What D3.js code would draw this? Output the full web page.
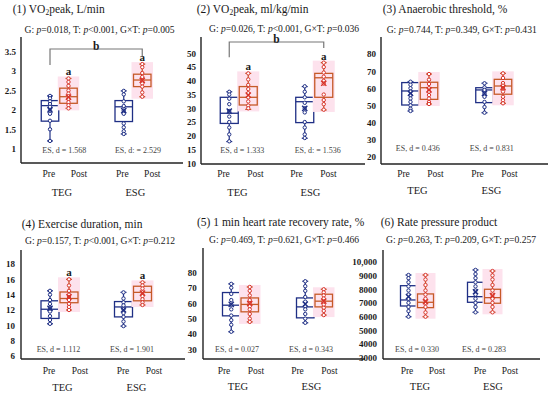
<!DOCTYPE html>
<html><head><meta charset="utf-8">
<script src="https://cdn.jsdelivr.net/npm/d3@7"></script>
<style>
body{margin:0;background:#fff}
svg{display:block}
text{font-family:"Liberation Serif","DejaVu Serif",serif;fill:#1a1a1a}
</style>
</head><body>
<svg id="c" width="550" height="393"></svg>
<script>
// ---------------- DATA ----------------
const groups = ["TEG", "ESG"];
const phases = ["Pre", "Post"];
const panelTitles = [
  "(1) VO₂peak, L/min",
  "(2) VO₂peak, ml/kg/min",
  "(3) Anaerobic threshold, %",
  "(4) Exercise duration, min",
  "(5) 1 min heart rate recovery rate, %",
  "(6) Rate pressure product"
];
// G, T, GxT p-values
const pValues = [
  ["=0.018", "<0.001", "=0.005"],
  ["=0.026", "<0.001", "=0.036"],
  ["=0.744", "=0.349", "=0.431"],
  ["=0.157", "<0.001", "=0.212"],
  ["=0.469", "=0.621", "=0.466"],
  ["=0.263", "=0.209", "=0.257"]
];
const esLabels = [
  ["ES, d = 1.568", "ES, d: = 2.529"],
  ["ES, d = 1.333", "ES, d: = 1.536"],
  ["ES, d = 0.436", "ES, d = 0.831"],
  ["ES, d = 1.112", "ES, d = 1.901"],
  ["ES, d = 0.027", "ES, d = 0.343"],
  ["ES, d = 0.330", "ES, d = 0.283"]
];
const tickValues = [
  [1, 1.5, 2, 2.5, 3, 3.5],
  [10, 15, 20, 25, 30, 35, 40, 45, 50],
  [20, 30, 40, 50, 60, 70, 80],
  [6, 8, 10, 12, 14, 16, 18],
  [30, 40, 50, 60, 70, 80],
  [3000, 4000, 5000, 6000, 7000, 8000, 9000, 10000]
];
// box stats per panel: [TEG Pre, TEG Post, ESG Pre, ESG Post], each [min, q1, median, q3, max, mean]
const boxStats = [
  [[1.2, 1.71, 2.11, 2.24, 2.36, 2.0], [2.04, 2.17, 2.34, 2.56, 2.81, 2.33], [1.38, 1.7, 2.08, 2.24, 2.49, 1.98], [2.34, 2.6, 2.77, 2.92, 3.18, 2.76]],
  [[17.9, 24.5, 28.2, 34.0, 36.0, 29.0], [29.6, 31.2, 34.0, 37.9, 42.7, 34.8], [19.1, 24.8, 32.4, 34.0, 37.9, 30.0], [29.4, 34.0, 41.1, 42.7, 46.6, 39.1]],
  [[46.7, 50.2, 58.4, 63.3, 63.8, 57.0], [50.8, 53.5, 60.3, 63.5, 68.3, 59.0], [45.7, 51.6, 59.0, 60.3, 62.9, 57.0], [51.2, 56.5, 61.3, 65.2, 68.7, 60.3]],
  [[10.2, 10.9, 12.1, 13.2, 14.5, 12.2], [12.0, 12.95, 13.5, 14.35, 16.0, 13.7], [9.9, 11.1, 12.4, 13.1, 14.3, 12.0], [12.65, 13.2, 14.3, 15.1, 15.6, 14.2]],
  [[41.5, 51.8, 58.7, 66.9, 72.5, 59.2], [47.9, 54.4, 59.2, 63.4, 70.5, 59.8], [47.3, 50.5, 57.6, 63.4, 74.2, 59.4], [52.3, 57.6, 61.3, 65.8, 69.0, 61.3]],
  [[5990, 6770, 7210, 8250, 9030, 7450], [5990, 6650, 7040, 7650, 9030, 7080], [6310, 7040, 7450, 8500, 9400, 7810], [6310, 6970, 7380, 7990, 9320, 7520]]
];
// individual subject points per panel / box
const pointValues = [
  [[2.36, 2.3, 2.22, 2.15, 2.08, 1.98, 1.9, 1.72, 1.5, 1.2], [2.81, 2.72, 2.62, 2.5, 2.42, 2.35, 2.28, 2.2, 2.12, 2.04], [2.49, 2.4, 2.22, 2.1, 1.98, 1.9, 1.65, 1.55, 1.45, 1.38], [3.18, 3.1, 2.95, 2.85, 2.75, 2.68, 2.6, 2.45, 2.34]],
  [[36, 35, 33.5, 31.5, 29, 27, 25, 23, 20.5, 18], [42.7, 40.5, 38.5, 37, 35.5, 34, 32.5, 31, 30], [38, 36, 34, 32, 30, 28.5, 25, 23, 20.5, 19.2], [46.6, 45, 43, 41.5, 40, 39, 35, 33, 31.5, 29.5]],
  [[63.8, 62, 60, 58, 56, 54, 52, 50, 48, 46.7], [68.3, 65, 62.5, 60, 58, 56, 54, 52, 50.8], [62.9, 60.5, 59, 57, 55, 52, 49, 45.7], [68.7, 66, 63, 61.5, 60, 58, 55, 53, 51.2]],
  [[14.5, 14, 13.3, 12.8, 12.3, 11.8, 11.2, 10.7, 10.2], [16, 15.2, 14.5, 14, 13.7, 13.3, 12.8, 12.4, 12], [14.3, 13.5, 13, 12.6, 12.1, 11.6, 11.1, 10.5, 9.9], [15.6, 15.2, 14.8, 14.3, 13.8, 13.4, 13, 12.65]],
  [[72.5, 70, 66, 62, 59, 56, 52, 49, 46, 41.5], [70.5, 68, 65, 62, 60, 58, 56, 53, 50, 47.9], [74.2, 71, 68, 64, 61, 58, 56, 53, 50, 47.3], [69, 67, 65, 63, 61, 59, 57, 55, 52.3]],
  [[9030, 8800, 8500, 8200, 7900, 7600, 7300, 7000, 6700, 6400, 5990], [9030, 8700, 8300, 7900, 7600, 7300, 7000, 6700, 6300, 5990], [9400, 9100, 8800, 8500, 8200, 7900, 7600, 7300, 7000, 6700, 6310], [9320, 9000, 8700, 8300, 7900, 7600, 7300, 7000, 6700, 6310]]
];
// significance "a" on post boxes
const sigA = [[false, true, false, true], [false, true, false, true], [false, false, false, false], [false, true, false, true], [false, false, false, false], [false, false, false, false]];
const bracketLabel = ["b", "b", "", "", "", ""];

// ---------------- LAYOUT ----------------
const layout = [
  {ax: 21, top: 37, bot: 163, right: 183, ref: [1, 148.7, 3.5, 51.7], gx: [59.25, 133], bw: 17.5, tx: 12.7, ty: 12.5, px: 24.5, py: 33, tickR: 16, lblMid: [63.9, 137.3], lblHalf: 15, lblY: 177, grpY: 196, esY: 152.5, esDx: 5, bracket: [49, 65, 56]},
  {ax: 201, top: 37, bot: 164, right: 365, ref: [10, 163.3, 50, 53.3], gx: [238.75, 314.25], bw: 18, tx: 196.7, ty: 12.5, px: 209, py: 32, tickR: 196, lblMid: [239.5, 312.5], lblHalf: 16, lblY: 177, grpY: 196, esY: 152.5, esDx: 3.5, bracket: [42, 57.3, 48]},
  {ax: 381, top: 37, bot: 164, right: 548, ref: [20, 156.7, 80, 54], gx: [419.75, 493.75], bw: 17.5, tx: 382.7, ty: 12.5, px: 386.7, py: 33, tickR: 376, lblMid: [419.5, 493.5], lblHalf: 16, lblY: 177, grpY: 194, esY: 151, esDx: -2, bracket: null},
  {ax: 21, top: 250, bot: 359, right: 185, ref: [6, 356, 18, 264], gx: [59.5, 133], bw: 18, tx: 21.7, ty: 227.5, px: 25, py: 243.5, tickR: 15, lblMid: [64.5, 138.5], lblHalf: 15.5, lblY: 374, grpY: 391, esY: 352, esDx: -1, bracket: null},
  {ax: 203, top: 248, bot: 359, right: 365, ref: [30, 349.5, 80, 272.3], gx: [240.5, 314.5], bw: 17.5, tx: 197, ty: 226, px: 209, py: 242.5, tickR: 196.7, lblMid: [240, 313.5], lblHalf: 16, lblY: 374, grpY: 390, esY: 352, esDx: -3.5, bracket: null},
  {ax: 383, top: 250, bot: 359, right: 540, ref: [3000, 357.7, 10000, 261.7], gx: [417, 484], bw: 16, tx: 380.7, ty: 226, px: 386, py: 242.5, tickR: 377, lblMid: [422, 495], lblHalf: 15, lblY: 374, grpY: 390, esY: 352, esDx: 0, bracket: null}
];

const navy = "#1f2f85", orange = "#c65a28", red = "#d8352b", pink = "#fde2ed";

const svg = d3.select("#c");
svg.append("rect").attr("width", 550).attr("height", 393).attr("fill", "#fff");

const tickFmt = v => v >= 10000 ? d3.format(",")(v) : String(v);

layout.forEach((L, i) => {
  const g = svg.append("g");
  const y = d3.scaleLinear().domain([L.ref[0], L.ref[2]]).range([L.ref[1], L.ref[3]]);
  const gxScale = d3.scalePoint().domain(groups).range(L.gx);
  const phaseScale = d3.scaleBand().domain(phases).range([-L.bw - 1, L.bw + 1]);
  const lblScale = d3.scalePoint().domain(groups).range(L.lblMid);

  // title
  const parts = panelTitles[i].split("₂");
  const t = g.append("text").attr("x", L.tx).attr("y", L.ty).attr("font-size", 11.5);
  t.append("tspan").text(parts[0]);
  if (parts.length > 1) {
    t.append("tspan").attr("font-size", 7.5).attr("dy", 2.5).text("2");
    t.append("tspan").attr("dy", -2.5).text(parts[1]);
  }
  // p-values
  const pt = g.append("text").attr("x", L.px).attr("y", L.py).attr("font-size", 9.6);
  const lbls = ["G: ", ", T: ", ", G\u00d7T: "];
  pValues[i].forEach((pv, k) => {
    pt.append("tspan").text(lbls[k]);
    pt.append("tspan").attr("font-style", "italic").text("p");
    pt.append("tspan").text(pv);
  });

  // axes
  g.append("line").attr("x1", L.ax).attr("x2", L.ax).attr("y1", L.top).attr("y2", L.bot)
    .attr("stroke", "#222").attr("stroke-width", 1.4);
  g.append("line").attr("x1", L.ax).attr("x2", L.right).attr("y1", L.bot).attr("y2", L.bot)
    .attr("stroke", "#222").attr("stroke-width", 1.6);

  const axis = d3.axisLeft(y).tickValues(tickValues[i]).tickSize(0).tickPadding(0).tickFormat(tickFmt);
  const ag = g.append("g").attr("transform", `translate(${L.tickR},0)`).call(axis);
  ag.select(".domain").remove();
  ag.selectAll("text").attr("font-family", '"Liberation Serif",serif').attr("font-size", 9)
    .attr("font-weight", "bold").attr("fill", "#222");

  // boxes
  groups.forEach((grp, gi) => {
    phases.forEach((ph, pi) => {
      const idx = gi * 2 + pi;
      const [mn, q1, md, q3, mx, mean] = boxStats[i][idx];
      const cx = gxScale(grp) + phaseScale(ph) + phaseScale.bandwidth() / 2;
      const col = pi === 0 ? navy : orange;
      const ptCol = pi === 0 ? navy : red;
      const bg = g.append("g");
      if (pi === 1) {
        bg.append("rect").attr("x", cx - L.bw / 2 - 2).attr("width", L.bw + 4)
          .attr("y", y(mx) - 2).attr("height", y(mn) - y(mx) + 4).attr("fill", pink);
      }
      // whiskers
      bg.append("line").attr("x1", cx).attr("x2", cx).attr("y1", y(mx)).attr("y2", y(q3)).attr("stroke", col).attr("stroke-width", 1.2);
      bg.append("line").attr("x1", cx).attr("x2", cx).attr("y1", y(q1)).attr("y2", y(mn)).attr("stroke", col).attr("stroke-width", 1.2);
      [mn, mx].forEach(v => bg.append("line").attr("x1", cx - 3).attr("x2", cx + 3).attr("y1", y(v)).attr("y2", y(v)).attr("stroke", col).attr("stroke-width", 1.2));
      // box
      bg.append("rect").attr("x", cx - L.bw / 2).attr("width", L.bw).attr("y", y(q3)).attr("height", y(q1) - y(q3))
        .attr("fill", "none").attr("stroke", col).attr("stroke-width", 1.3);
      bg.append("line").attr("x1", cx - L.bw / 2).attr("x2", cx + L.bw / 2).attr("y1", y(md)).attr("y2", y(md)).attr("stroke", col).attr("stroke-width", 1.3);
      // points
      bg.selectAll("circle").data(pointValues[i][idx]).join("circle")
        .attr("cx", cx).attr("cy", d => y(d)).attr("r", 1.7)
        .attr("fill", "#fff").attr("stroke", ptCol).attr("stroke-width", 1);
      // mean marker
      const s = 2.6, my = y(mean);
      bg.append("path").attr("d", `M${cx - s},${my - s}L${cx + s},${my + s}M${cx - s},${my + s}L${cx + s},${my - s}`)
        .attr("stroke", ptCol).attr("stroke-width", 1.4);
      if (sigA[i][idx]) {
        g.append("text").attr("x", cx).attr("y", y(mx) - 3).attr("text-anchor", "middle")
          .attr("font-size", 11).attr("font-weight", "bold").text("a");
      }
    });
    // Pre / Post labels
    phases.forEach((ph, pi) => {
      g.append("text").attr("x", lblScale(grp) + (pi === 0 ? -L.lblHalf : L.lblHalf)).attr("y", L.lblY)
        .attr("text-anchor", "middle").attr("font-size", 9.5).text(ph);
    });
    g.append("text").attr("x", lblScale(grp) - 2).attr("y", L.grpY).attr("text-anchor", "middle")
      .attr("font-size", 10.5).text(grp);
    g.append("text").attr("x", gxScale(grp) + L.esDx).attr("y", L.esY).attr("text-anchor", "middle")
      .attr("font-size", 8).style("fill", "#444").text(esLabels[i][gi]);
  });

  // bracket
  if (bracketLabel[i]) {
    const [by, yl, yr] = L.bracket;
    const xl = gxScale("TEG") + phaseScale("Pre") + phaseScale.bandwidth() / 2;
    const xr = gxScale("ESG") + phaseScale("Post") + phaseScale.bandwidth() / 2;
    g.append("path").attr("d", `M${xl},${yl}V${by}H${xr}V${yr}`).attr("fill", "none")
      .attr("stroke", "#777").attr("stroke-width", 1.2);
    g.append("text").attr("x", (xl + xr) / 2).attr("y", by + 0.5).attr("text-anchor", "middle")
      .attr("font-size", 11.5).attr("font-weight", "bold").text(bracketLabel[i]);
  }
});
</script>
</body></html>
